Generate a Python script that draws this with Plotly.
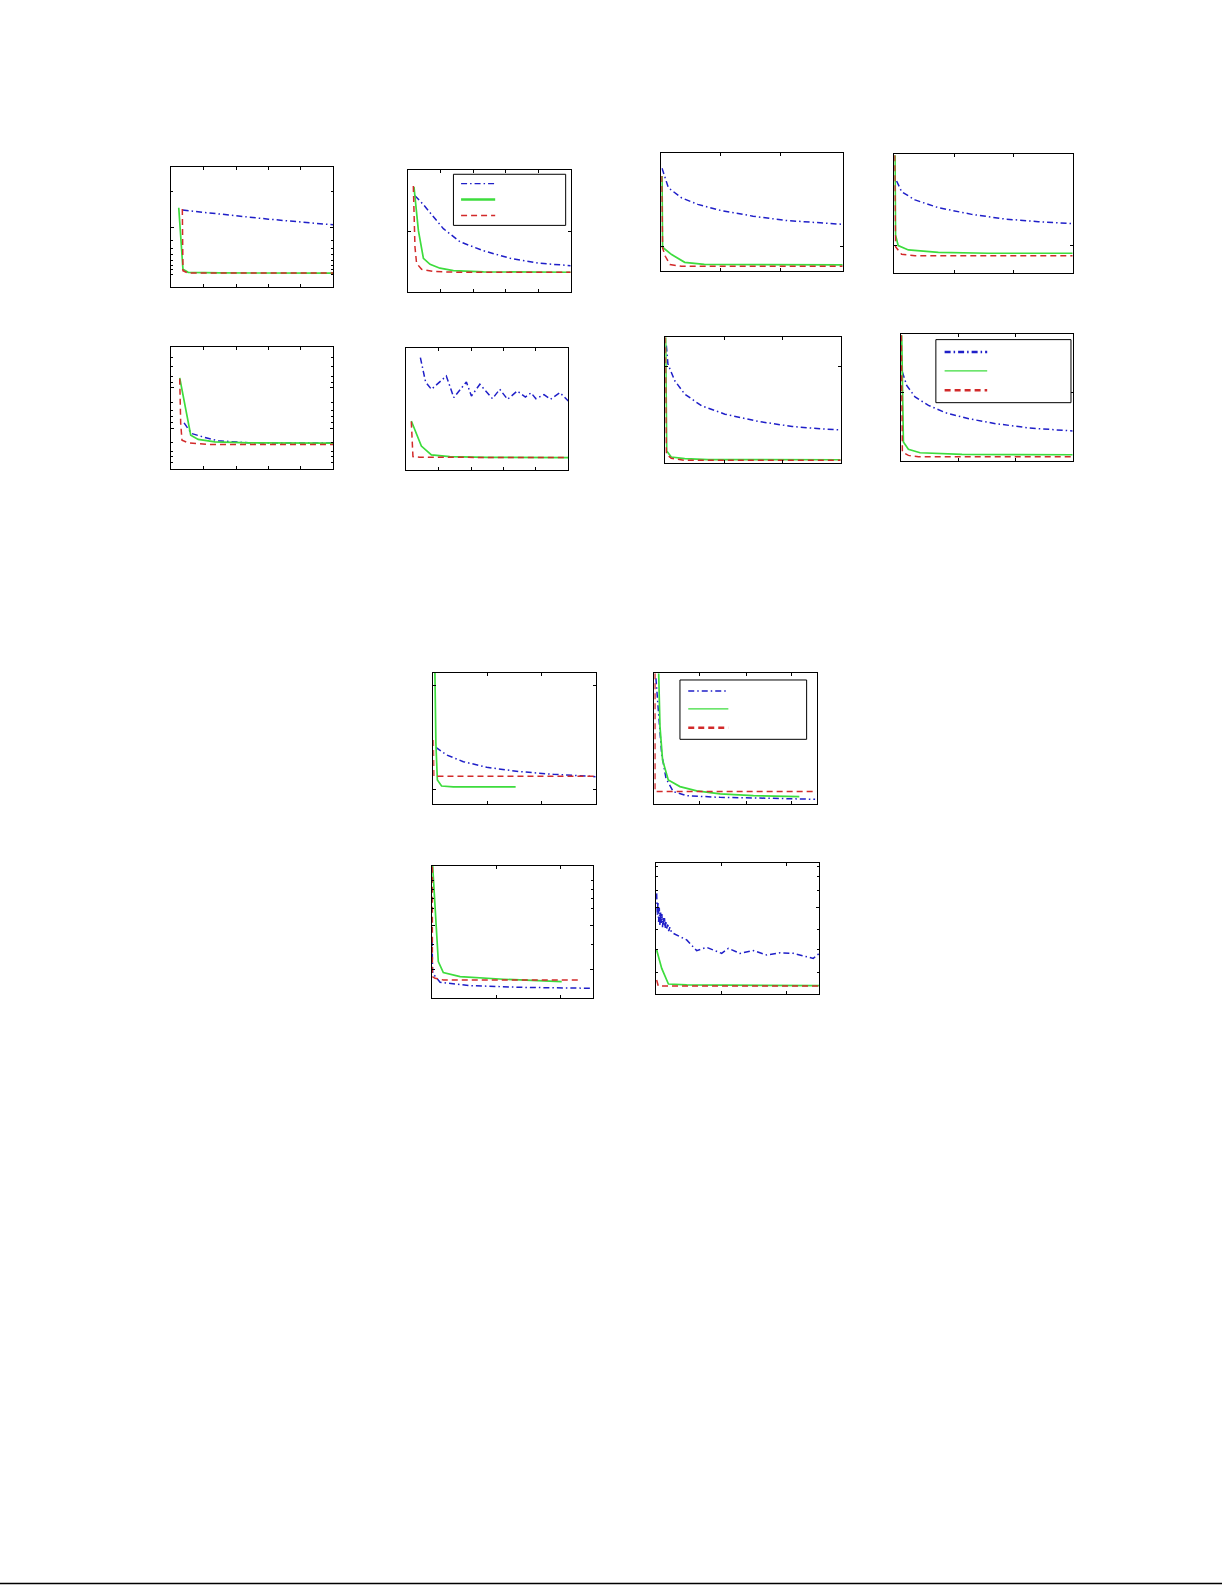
import plotly.graph_objects as go

W, H = 1225, 1585
BLUE = "#1f1fc8"
GREEN = "#3ddc3d"
RED = "#d22a2a"

# ---- Data (x: % of iteration range, y: % of panel height) ----
# Panel A (top-left)
a_blue_x = [7, 30, 60, 100]
a_blue_y = [64, 60.5, 56.5, 51.8]
a_green_x = [4.6, 7.2, 10.4, 30, 100]
a_green_y = [66, 15, 12.4, 11.9, 11.8]
a_red_x = [6.8, 7.2, 10.4, 100]
a_red_y = [65, 13.8, 11.8, 11.8]
# Panel B
b_blue_x = [4.1, 9.3, 21.6, 31.9, 46.3, 62.8, 81.3, 100]
b_blue_y = [78.9, 71.6, 51.9, 41.1, 33.8, 27.6, 23.5, 21.6]
b_green_x = [3.5, 6.2, 9.3, 13.4, 19.5, 27.8, 46.3, 100]
b_green_y = [86.2, 50.5, 27.6, 22.7, 19.5, 17.6, 16.5, 16.2]
b_red_x = [3.1, 4.1, 5.1, 8.2, 15.4, 30, 100]
b_red_y = [86.8, 37, 23.5, 18.6, 16.8, 16.2, 16.2]
# Panel C
c_blue_x = [7.9, 12.4, 20.7, 29, 47.6, 100]
c_blue_y = [37.9, 29.2, 25.9, 23.2, 21.5, 21.3]
c_green_x = [5.2, 12, 16.6, 26.9, 47.6, 100]
c_green_y = [74.9, 27.8, 24.3, 22.3, 21.5, 21.3]
c_red_x = [5.2, 5.8, 6.6, 10.4, 22.8, 100]
c_red_y = [74.1, 37.3, 23.7, 21.5, 20.2, 20.2]
# Panel D
d_blue_x = [8.7, 10.3, 11.9, 15.5, 24.7, 29.3, 37.1, 40.2, 45.4, 53.2, 57.7,
            62.5, 68.5, 73.5, 77, 80, 85, 89, 94.8, 100]
d_blue_y = [92.3, 81.4, 72.4, 66.4, 77.3, 59.6, 72.4, 60.9, 70.5, 58.7, 66.4,
            58.2, 65, 60, 63.5, 58.7, 62, 58.2, 63.7, 56.8]
d_green_x = [3.1, 9.3, 15.5, 26.8, 50, 100]
d_green_y = [40.4, 19.9, 12.6, 11.2, 10.6, 10.4]
d_red_x = [3.1, 4.1, 8.2, 100]
d_red_y = [39.9, 11.2, 10.7, 10.4]
# Panel E
e_blue_x = [0.4, 3.9, 11.1, 20.1, 32.7, 50.6, 68.6, 86.5, 100]
e_blue_y = [87.3, 70.8, 62.3, 56.7, 51.6, 46.7, 43.1, 41.1, 39.8]
e_green_x = [0.4, 0.7, 5.7, 12.9, 23.7, 50.6, 100]
e_green_y = [80.7, 20.4, 14.2, 7.6, 5.9, 5.7, 5.4]
e_red_x = [0.2, 0.7, 2.2, 4.8, 11.1, 100]
e_red_y = [80.7, 19.8, 12.7, 5.7, 4.2, 4.2]
# Panel F
f_blue_x = [1.3, 4.1, 11.6, 24.7, 43.4, 62, 80.7, 100]
f_blue_y = [77.4, 68.4, 61.5, 55, 49.4, 45.5, 43.3, 41.6]
f_green_x = [0.4, 0.7, 2.2, 7.9, 24.7, 52.7, 100]
f_green_y = [99, 32, 23.2, 19.6, 17.6, 16.8, 16.8]
f_red_x = [0.2, 0.7, 4.1, 11.6, 100]
f_red_y = [99, 22.3, 15.9, 14.8, 14.8]
# Panel G
g_blue_x = [0.6, 1.5, 5.4, 11.1, 20.7, 34, 53.2, 72.3, 91.4, 99]
g_blue_y = [93.4, 78.8, 65.5, 54.9, 45.6, 39, 33.2, 29.2, 27.1, 26.5]
g_green_x = [0.2, 0.8, 3.4, 11.1, 24.5, 100]
g_green_y = [100, 9.8, 5, 3.7, 2.9, 2.8]
g_red_x = [0, 0.6, 3.4, 11.1, 100]
g_red_y = [100, 7.2, 4, 2.4, 2.4]
# Panel H
h_blue_x = [0.8, 3.3, 8.2, 16, 25.8, 39.5, 55.1, 74.6, 100]
h_blue_y = [70.2, 59.6, 50.4, 43.8, 38, 33.2, 29.3, 25.9, 23.5]
h_green_x = [0.4, 1.4, 4.3, 11.1, 35.5, 100]
h_green_y = [99.2, 14.8, 9, 6.3, 5, 4.7]
h_red_x = [0.2, 0.8, 4.3, 10.2, 100]
h_red_y = [99.2, 6.9, 4.2, 3.2, 3.2]
# Panel I
i_blue_x = [1.6, 8.2, 18.5, 32.9, 53.4, 73.9, 100]
i_blue_y = [43.3, 37.5, 32.4, 28.1, 24.8, 22.8, 21]
i_green_x = [1, 1.6, 2.5, 5.1, 12.3, 50.7]
i_green_y = [100, 46.3, 18.5, 13.9, 13.2, 13.2]
i_red_x = [0, 0.3, 100]
i_red_y = [48.9, 21.3, 21.3]
# Panel J
j_blue_x = [1, 2.5, 4.5, 7.2, 11.7, 19.9, 40.5, 71.3, 99]
j_blue_y = [96.2, 72, 38.9, 19.8, 9.7, 6.6, 5.3, 4.6, 3.8]
j_green_x = [2.7, 3.5, 5.1, 8.6, 15.8, 26.1, 40.5, 61, 89.3]
j_green_y = [100, 59.3, 33.8, 18.6, 13.5, 10.2, 7.9, 6.6, 5.9]
j_red_x = [0.4, 0.4, 100]
j_red_y = [100, 9.7, 9.7]
# Panel K
k_blue_x = [0.2, 0.6, 5.2, 23.8, 54.8, 98.1]
k_blue_y = [44.1, 18.9, 12.1, 9.6, 8.3, 7.6]
k_green_x = [0.6, 2.1, 4.1, 7.2, 17.6, 44.4, 80.6]
k_green_y = [100, 66.8, 27.7, 19.4, 16.4, 14.4, 12.6]
k_red_x = [0.4, 0.4, 2.1, 7.2, 91.9]
k_red_y = [99.5, 16.4, 15.1, 13.9, 13.9]
# Panel L
l_blue_x = [0.4, 0.8, 1.2, 1.6, 2.0, 2.4, 2.8, 3.2, 3.6, 4.0, 4.4, 4.8, 5.2, 5.6,
            6.0, 6.6, 7.2, 7.8, 8.5, 9.5, 10.6, 18.8, 24.9, 31, 40.2, 44.3, 51.4,
            59.6, 67.8, 75.9, 84.1, 96.3, 100]
l_blue_y = [76.7, 60, 70, 55, 66, 52, 63, 54, 61, 51, 59, 52, 58, 50,
            56, 50, 54, 48, 51, 47, 46.3, 41.3, 33.2, 35.7, 31.1, 34.9, 31.1,
            33.2, 29.9, 31.6, 31.1, 27.3, 31.1]
l_green_x = [0.4, 3.5, 7.6, 18.8, 100]
l_green_y = [33.7, 19.7, 7.8, 7.1, 6.6]
l_red_x = [0.4, 1.4, 100]
l_red_y = [10.9, 6.3, 6.3]

# ---- Layout of panels (pixel boxes: x0, x1, y0(top), y1(bottom)) ----
panels = [
    dict(box=(171.3, 333.3, 166.7, 287.3), data=(a_blue_x, a_blue_y, a_green_x, a_green_y, a_red_x, a_red_y),
         xt=[20, 40, 60, 80], yt=[49.4], ym=[79.8, 39, 32.3, 26.8, 22.4, 18, 14.4, 11]),
    dict(box=(408.3, 570.7, 170, 292), data=(b_blue_x, b_blue_y, b_green_x, b_green_y, b_red_x, b_red_y),
         xt=[20, 40, 60, 80], yt=[49.2], ym=[],
         legend=dict(box=(27.8, 96.9, 54.6, 96.5), lx=(32.5, 53.5), ly=(88.9, 75.9, 62.7), lw=(1.3, 2.5, 1.3))),
    dict(box=(171.3, 333.3, 347.3, 469), data=(c_blue_x, c_blue_y, c_green_x, c_green_y, c_red_x, c_red_y),
         xt=[20, 40, 60, 80], yt=[33.2, 66.8], ym=[92, 84, 76, 71, 55, 48, 43, 38, 22, 14, 10, 5]),
    dict(box=(406.3, 568.3, 348.3, 470.3), data=(d_blue_x, d_blue_y, d_green_x, d_green_y, d_red_x, d_red_y),
         xt=[20, 40, 60, 80], yt=[], ym=[]),
    dict(box=(661.3, 842.7, 153.3, 271.3), data=(e_blue_x, e_blue_y, e_green_x, e_green_y, e_red_x, e_red_y),
         xt=[32.7, 65.5], yt=[21.2], ym=[]),
    dict(box=(894.3, 1072.7, 154, 273.3), data=(f_blue_x, f_blue_y, f_green_x, f_green_y, f_red_x, f_red_y),
         xt=[33.5, 66.7], yt=[23.7], ym=[]),
    dict(box=(665.3, 840.7, 337.3, 463.3), data=(g_blue_x, g_blue_y, g_green_x, g_green_y, g_red_x, g_red_y),
         xt=[34, 66.9], yt=[76.7], ym=[]),
    dict(box=(901, 1072.7, 334.3, 460.7), data=(h_blue_x, h_blue_y, h_green_x, h_green_y, h_red_x, h_red_y),
         xt=[33.6, 66.8], yt=[53.6], ym=[],
         legend=dict(box=(20.3, 99, 45.9, 95.8), lx=(25.4, 50.2), ly=(86, 71, 55.7), lw=(2.5, 1.3, 2.5))),
    dict(box=(433.3, 595.7, 672.7, 804.3), data=(i_blue_x, i_blue_y, i_green_x, i_green_y, i_red_x, i_red_y),
         xt=[33.5, 66.7], yt=[11.4, 90.6], ym=[]),
    dict(box=(654.3, 816.7, 673.3, 804.3), data=(j_blue_x, j_blue_y, j_green_x, j_green_y, j_red_x, j_red_y),
         xt=[27.7, 56.5, 84.6], yt=[], ym=[],
         legend=dict(box=(15.8, 93.8, 49.6, 94.9), lx=(20.9, 45.6), ly=(86.5, 72.8, 58.5), lw=(1.3, 1.3, 2.5))),
    dict(box=(431.7, 593, 866, 998.3), data=(k_blue_x, k_blue_y, k_green_x, k_green_y, k_red_x, k_red_y),
         xt=[39.9, 79.8], yt=[21.4, 55.4], ym=[89.4, 81.9, 75.6, 68, 40.3]),
    dict(box=(656, 819.3, 862.7, 994.3), data=(l_blue_x, l_blue_y, l_green_x, l_green_y, l_red_x, l_red_y),
         xt=[40.2, 80], yt=[65.8], ym=[97, 89.4, 79.2, 49.4, 33.9, 16.2]),
]

BLUE_DASH = "6px,3px,1.5px,3px"
RED_DASH = "6px,4px"

fig = go.Figure()
shapes = []
for i, p in enumerate(panels):
    n = "" if i == 0 else str(i + 1)
    xa, ya = "x" + n, "y" + n
    x0, x1, y0, y1 = p["box"]
    bx, by, gx, gy, rx, ry = p["data"]
    fig.add_trace(go.Scatter(x=bx, y=by, mode="lines", xaxis=xa, yaxis=ya, showlegend=False,
                             line=dict(color=BLUE, width=1.5, dash=BLUE_DASH)))
    fig.add_trace(go.Scatter(x=gx, y=gy, mode="lines", xaxis=xa, yaxis=ya, showlegend=False,
                             line=dict(color=GREEN, width=1.7)))
    fig.add_trace(go.Scatter(x=rx, y=ry, mode="lines", xaxis=xa, yaxis=ya, showlegend=False,
                             line=dict(color=RED, width=1.5, dash=RED_DASH)))
    axcommon = dict(showline=True, mirror="ticks", linecolor="black", linewidth=1,
                    ticks="inside", ticklen=3, tickcolor="black", tickwidth=1,
                    showticklabels=False, showgrid=False, zeroline=False, fixedrange=True)
    fig.layout["xaxis" + n] = dict(domain=[x0 / W, x1 / W], range=[0, 100], anchor=ya,
                                   tickmode="array", tickvals=p["xt"], **axcommon)
    yax = dict(domain=[1 - y1 / H, 1 - y0 / H], range=[0, 100], anchor=xa,
               tickmode="array", tickvals=p["yt"], **axcommon)
    if p["ym"]:
        yax["minor"] = dict(tickmode="array", tickvals=p["ym"], ticks="inside",
                            ticklen=2, tickcolor="black", showgrid=False)
    fig.layout["yaxis" + n] = yax
    if "legend" in p:
        lg = p["legend"]
        bx0, bx1, by0, by1 = lg["box"]
        shapes.append(dict(type="rect", xref=xa, yref=ya, x0=bx0, x1=bx1, y0=by0, y1=by1,
                           line=dict(color="black", width=1), fillcolor="white", layer="above"))
        cols = [(BLUE, BLUE_DASH), (GREEN, "solid"), (RED, RED_DASH)]
        for (c, d), yy, w in zip(cols, lg["ly"], lg["lw"]):
            shapes.append(dict(type="line", xref=xa, yref=ya, x0=lg["lx"][0], x1=lg["lx"][1],
                               y0=yy, y1=yy, line=dict(color=c, width=w, dash=d), layer="above"))

# page bottom rule
shapes.append(dict(type="line", xref="paper", yref="paper", x0=0, x1=1222 / W,
                   y0=1 - 1583.5 / H, y1=1 - 1583.5 / H, line=dict(color="black", width=1.5)))

fig.update_layout(width=W, height=H, margin=dict(l=0, r=0, t=0, b=0),
                  paper_bgcolor="white", plot_bgcolor="white", shapes=shapes,
                  showlegend=False)
fig.write_html("out.html", config={"displayModeBar": False, "staticPlot": True},
               post_script="document.body.style.margin='0';document.body.style.padding='0';"
                           "document.body.style.overflow='hidden';")
